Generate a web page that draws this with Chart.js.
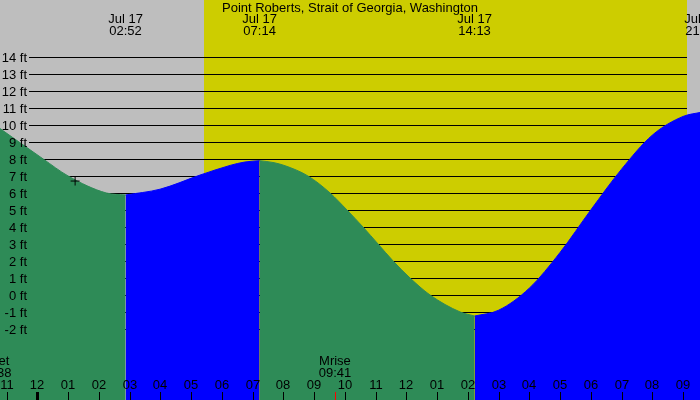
<!DOCTYPE html>
<html>
<head>
<meta charset="utf-8">
<script src="https://cdn.jsdelivr.net/npm/chart.js@4.4.0/dist/chart.umd.min.js"></script>
<style>
body{margin:0;background:#bebebe;}
#wrap{width:700px;height:400px;position:relative;}
</style>
</head>
<body>
<div id="wrap"><canvas id="tide"></canvas></div>
<script>
// tide heights (hours from midnight Jul 17, feet)
var hours   = [-1.3, 0.19, 1.0, 2.24, 2.87, 3.99, 5.29, 6.27, 6.75, 7.23, 7.7, 8.06, 8.8, 9.52, 10.07, 10.59, 11.08, 11.57, 12.12, 12.77, 13.75, 14.22, 15, 16, 17, 18, 19, 20, 21, 21.6, 22];
var heights = [9.9, 8.0, 7.0, 6.0, 5.88, 6.22, 7.05, 7.62, 7.82, 7.9, 7.78, 7.6, 7.0, 6.0, 5.0, 4.0, 3.0, 2.0, 1.0, 0.0, -1.0, -1.24, -0.9, 0.4, 2.5, 5.0, 7.4, 9.4, 10.5, 10.75, 10.7];

// high / low tides
var extremeHours  = [2.87, 7.23, 14.22, 21.6];
var extremeLabels = ['02:52', '07:14', '14:13', '21:36'];
var extremeDate   = 'Jul 17';

// hour ticks along the bottom
var tickHours  = [-1, 0, 1, 2, 3, 4, 5, 6, 7, 8, 9, 10, 11, 12, 13, 14, 15, 16, 17, 18, 19, 20, 21];
var tickLabels = ['11','12','01','02','03','04','05','06','07','08','09','10','11','12','01','02','03','04','05','06','07','08','09'];

// foot lines
var feet = [-2, -1, 0, 1, 2, 3, 4, 5, 6, 7, 8, 9, 10, 11, 12, 13, 14];

// sun and moon
var sunrise = 5.42, sunset = 21.12;
var moonEvents = [
    {hour: -1.37, name: 'Mset', time: '22:38'},
    {hour: 9.68, name: 'Mrise', time: '09:41'}
];

// "now" marker
var nowHour = 1.23, nowHeight = 6.7;

var title = 'Point Roberts, Strait of Georgia, Washington';
var FONT = '13px "Liberation Sans", Arial, sans-serif';

// split the curve at every high / low: falling parts green, rising parts blue
var cuts = [0];
extremeHours.forEach(function(h){ cuts.push(hours.indexOf(h)); });
cuts.push(hours.length - 1);

var datasets = [];
for (var i = 0; i < cuts.length - 1; i++) {
    var pts = [];
    for (var j = cuts[i]; j <= cuts[i+1]; j++) pts.push({x: hours[j], y: heights[j]});
    var col = heights[cuts[i+1]] < heights[cuts[i]] ? '#2e8b57' : '#0000ff';
    datasets.push({
        data: pts,
        fill: 'start',
        backgroundColor: col,
        borderColor: col,
        borderWidth: 1,
        pointRadius: 0,
        cubicInterpolationMode: 'monotone'
    });
}
datasets.push({
    data: [{x: nowHour, y: nowHeight}],
    order: -1,
    showLine: false,
    fill: false,
    pointStyle: 'cross',
    pointRadius: 4.5,
    borderColor: '#000',
    borderWidth: 1
});

var tideDecor = {
    id: 'tideDecor',
    beforeDatasetsDraw: function(chart){
        var ctx = chart.ctx, xs = chart.scales.x, ys = chart.scales.y, a = chart.chartArea;
        ctx.save();
        ctx.fillStyle = '#bebebe';
        ctx.fillRect(a.left, a.top, a.width, a.height);
        var x0 = Math.round(xs.getPixelForValue(sunrise));
        var x1 = Math.round(xs.getPixelForValue(sunset));
        ctx.fillStyle = '#cdcd00';
        ctx.fillRect(x0, a.top, x1 - x0, a.height);
        ctx.strokeStyle = '#000';
        ctx.lineWidth = 1;
        feet.forEach(function(f){
            var y = Math.round(ys.getPixelForValue(f)) + 0.5;
            ctx.beginPath();
            ctx.moveTo(29, y);
            ctx.lineTo(x1, y);
            ctx.stroke();
        });
        ctx.restore();
    },
    afterDatasetsDraw: function(chart){
        var ctx = chart.ctx, xs = chart.scales.x, ys = chart.scales.y;
        ctx.save();
        ctx.font = FONT;
        ctx.fillStyle = '#000';
        ctx.textBaseline = 'middle';

        // foot labels
        ctx.textAlign = 'right';
        feet.forEach(function(f){
            ctx.fillText(f + ' ft', 27, Math.round(ys.getPixelForValue(f)) + 1);
        });

        ctx.textAlign = 'center';
        ctx.fillText(title, 350, 8);

        extremeHours.forEach(function(h, k){
            var x = xs.getPixelForValue(h);
            ctx.fillText(extremeDate, x, 19);
            ctx.fillText(extremeLabels[k], x, 31);
        });

        // hour ticks
        tickHours.forEach(function(h, k){
            var x = Math.round(xs.getPixelForValue(h));
            ctx.fillStyle = '#000';
            ctx.fillText(tickLabels[k], x, 385);
            if (h === 0) ctx.fillRect(x - 1, 392, 3, 8);
            else ctx.fillRect(x, 392, 1, 8);
        });

        moonEvents.forEach(function(m){
            var x = xs.getPixelForValue(m.hour);
            ctx.fillStyle = '#000';
            ctx.fillText(m.name, x, 361);
            ctx.fillText(m.time, x, 373);
            ctx.fillStyle = '#ff0000';
            ctx.fillRect(Math.round(x), 392, 1, 8);
        });
        ctx.restore();
    }
};

new Chart(document.getElementById('tide'), {
    type: 'line',
    data: {datasets: datasets},
    options: {
        responsive: true,
        maintainAspectRatio: false,
        animation: false,
        events: [],
        layout: {padding: 0, autoPadding: false},
        scales: {
            x: {type: 'linear', min: -1.213, max: 21.551, display: false},
            y: {min: -6.18, max: 17.35, display: false}
        },
        plugins: {legend: {display: false}, tooltip: {enabled: false}}
    },
    plugins: [tideDecor]
});
</script>
</body>
</html>
